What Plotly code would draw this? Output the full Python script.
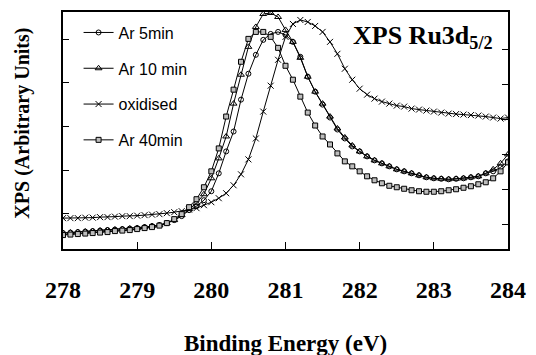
import plotly.graph_objects as go

# Binding energy grid (eV)
energy = [round(278.0 + 0.1 * k, 1) for k in range(61)]

# Intensities in arbitrary units
ar5 = [16, 16.5, 17, 17.5, 18, 18.5, 19, 19.5, 20, 20.5, 21, 22, 23, 24, 26, 29, 33, 39, 43, 49,
       58, 76, 98, 118, 150, 176, 195, 210, 216, 218, 215, 208, 193, 173, 158, 145, 132, 120, 111, 103,
       98, 93, 89, 86, 83, 80, 78, 76, 74, 72, 71, 70.5, 70, 70.5, 71, 72, 73, 76, 78, 82, 88]
ar10 = [16, 16.5, 17, 17.5, 18, 18.5, 19, 19.5, 20, 20.5, 21, 22, 23, 24, 26, 29, 34, 40, 46, 55,
        71, 91, 113, 146, 175, 203, 223, 236, 237, 233, 220, 208, 192, 173, 158, 146, 133, 121, 112, 104,
        98, 93, 89, 86, 83, 80, 78, 76, 74, 72, 71, 70.5, 70, 70.5, 71, 72, 73, 76, 80, 86, 95]
oxid = [31, 31, 31, 31.5, 31.5, 32, 32, 32.5, 33, 33, 33.5, 34, 34.5, 35, 36, 37, 38, 39.5, 41, 44,
        47, 51, 56, 64, 75, 90, 111, 138, 164, 190, 213, 226, 230, 228, 224, 218, 208, 196, 181, 170,
        161, 155, 151, 148, 146, 144, 143, 141, 140, 139, 138, 137, 136, 135.5, 135, 134.5, 134, 133, 132, 131, 132]
ar40 = [14, 14.5, 15, 15.5, 16, 16.5, 17, 18, 18.5, 19, 20, 21, 22, 23.5, 26, 30, 35, 42, 50, 62,
        78, 101, 133, 160, 188, 211, 218, 218, 213, 202, 184, 170, 153, 137, 124, 113, 105, 96, 88, 83,
        78, 73, 69, 66, 63.5, 62, 60.5, 59, 58, 57.5, 57.5, 58, 59, 60, 61.5, 63, 65, 67, 71, 78, 87]

series = [
    ("Ar 5min", ar5, dict(symbol="circle-open", size=5, color="black", line=dict(width=1, color="black"))),
    ("Ar 10 min", ar10, dict(symbol="triangle-up-open", size=6, color="black", line=dict(width=1, color="black"))),
    ("oxidised", oxid, dict(symbol="x-thin-open", size=6, color="black", line=dict(width=1, color="black"))),
    ("Ar 40min", ar40, dict(symbol="square", size=5, color="#bdbdbd", line=dict(width=1, color="black"))),
]

left_ticks = [36, 79, 123, 167, 210]
right_ticks = [25, 60, 95, 130, 165, 200]
x_ticks = [278, 279, 280, 281, 282, 283, 284]

fig = go.Figure()
for i, (name, vals, mk) in enumerate(series):
    fig.add_trace(go.Scatter(x=energy, y=vals, name=name, mode="lines+markers",
                             line=dict(color="black", width=1), marker=mk,
                             legendgroup=f"g{i}"))

# invisible trace to keep the right-hand axis drawn
fig.add_trace(go.Scatter(x=[energy[0]], y=[ar5[0]], yaxis="y2", mode="markers",
                         marker=dict(opacity=0), showlegend=False, hoverinfo="skip"))

serif = "Liberation Serif"
fig.update_layout(
    width=536, height=355,
    margin=dict(l=63, r=20, t=10, b=106),
    paper_bgcolor="white", plot_bgcolor="white",
    showlegend=True,
    legend=dict(x=0.035, y=0.985, xanchor="left", yanchor="top",
                font=dict(family="Liberation Sans", size=16, color="black"),
                bgcolor="rgba(0,0,0,0)", traceorder="grouped", tracegroupgap=12,
                itemwidth=30),
    xaxis=dict(range=[278, 284], tickvals=x_ticks, ticks="inside", ticklen=7,
               tickcolor="black", showline=True, linecolor="black", linewidth=1.5,
               mirror=True, showgrid=False, zeroline=False,
               tickfont=dict(family=serif, size=24, color="black", weight="bold"),
               ticklabelstandoff=18),
    yaxis=dict(range=[0, 238], tickvals=left_ticks, ticks="inside", ticklen=6,
               tickcolor="black", showticklabels=False, showline=True, linecolor="black",
               linewidth=1.5, mirror=True, showgrid=False, zeroline=False),
    yaxis2=dict(range=[0, 238], overlaying="y", side="right", tickvals=right_ticks,
                ticks="inside", ticklen=6, tickcolor="black", showticklabels=False,
                showline=False, showgrid=False, zeroline=False),
    annotations=[
        dict(x=0.97, y=0.895, xref="paper", yref="paper", xanchor="right", yanchor="middle",
             text="<b>XPS Ru3d<sub>5/2</sub></b>", showarrow=False,
             font=dict(family=serif, size=26, color="black")),
        dict(x=-0.09, y=0.533, xref="paper", yref="paper", xanchor="center", yanchor="middle",
             text="<b>XPS (Arbitrary Units)</b>", textangle=-90, showarrow=False,
             font=dict(family=serif, size=20, color="black")),
        dict(x=0.5, y=-0.4, xref="paper", yref="paper", xanchor="center", yanchor="middle",
             text="<b>Binding Energy (eV)</b>", showarrow=False,
             font=dict(family=serif, size=23, color="black")),
    ],
)

fig.write_html("out.html")
